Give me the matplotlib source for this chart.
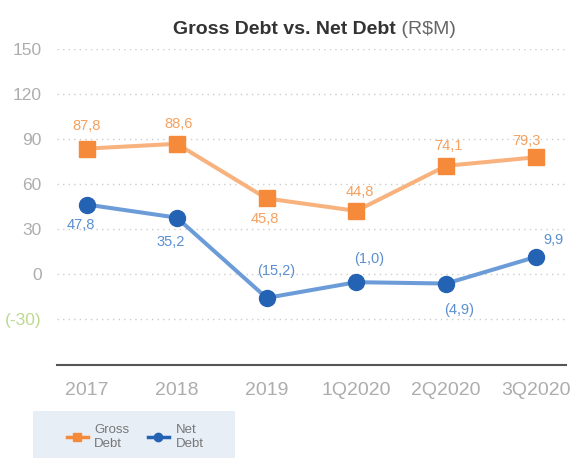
import matplotlib
matplotlib.use('Agg')
import matplotlib.pyplot as plt
from matplotlib.patches import Rectangle
from matplotlib.lines import Line2D

plt.rcParams['font.family'] = ['Liberation Sans', 'DejaVu Sans']

periods = ['2017', '2018', '2019', '1Q2020', '2Q2020', '3Q2020']
gross = [83.5, 86.7, 50.2, 41.9, 72.0, 77.7]
net = [46.1, 37.4, -16.2, -5.7, -6.6, 11.2]
gross_labels = ['87,8', '88,6', '45,8', '44,8', '74,1', '79,3']
net_labels = ['47,8', '35,2', '(15,2)', '(1,0)', '(4,9)', '9,9']
yticks = [150, 120, 90, 60, 30, 0, -30]
ytick_labels = ['150', '120', '90', '60', '30', '0', '(-30)']

# label offsets in pixels (dx, dy), up is positive
gross_off = [(0, 23), (2, 20), (-2, -21), (3, 19), (2, 20), (-10, 16)]
net_off = [(-6, -20), (-6, -24), (10, 27), (13, 23), (13, -26), (17, 17)]

c_gross_line = '#F8B27E'
c_gross = '#F58A3A'
c_gross_txt = '#F5A05E'
c_net_line = '#6C9CD8'
c_net = '#2462B4'
c_net_txt = '#5B8FD2'

W, H = 572, 458
fig = plt.figure(figsize=(W / 100, H / 100), dpi=100)
ax = fig.add_axes([57 / W, 1 - 365 / H, (566 - 57) / W, (365 - 49) / H])

x = list(range(len(periods)))
ax.plot(x, gross, color=c_gross_line, lw=2.9, marker='s', ms=11.5,
        markerfacecolor=c_gross, markeredgecolor=c_gross, zorder=3)
ax.plot(x, net, color=c_net_line, lw=2.9, marker='o', ms=11.5,
        markerfacecolor=c_net, markeredgecolor=c_net, zorder=3)

for i in x:
    ax.annotate(gross_labels[i], (x[i], gross[i]), xytext=gross_off[i],
                textcoords='offset pixels', ha='center', va='center',
                fontsize=10.5, color=c_gross_txt)
    ax.annotate(net_labels[i], (x[i], net[i]), xytext=net_off[i],
                textcoords='offset pixels', ha='center', va='center',
                fontsize=10.5, color=c_net_txt)

ax.set_xlim(-0.334, 5.334)
ax.set_ylim(-61, 150)
for v in yticks:
    ax.axhline(v, color='#CCCCCC', lw=1, ls=(0, (1, 3)), zorder=1)
ax.set_yticks(yticks)
ax.set_yticklabels(ytick_labels, fontsize=12.5, color='#ADADAD')
ax.get_yticklabels()[-1].set_color('#BCDA92')
ax.set_xticks(x)
ax.set_xticklabels(periods, fontsize=14, color='#ADADAD')
ax.tick_params(axis='both', length=0)
ax.tick_params(axis='y', pad=11)
ax.tick_params(axis='x', pad=12)
for s in ['top', 'right', 'left']:
    ax.spines[s].set_visible(False)
ax.spines['bottom'].set_color('#555555')
ax.spines['bottom'].set_linewidth(1.5)

fig.text(396 / W, 1 - 29 / H, 'Gross Debt vs. Net Debt', ha='right',
         va='center', fontsize=14, fontweight='bold', color='#333333')
fig.text(396 / W, 1 - 29 / H, ' (R$M)', ha='left', va='center',
         fontsize=14, color='#666666')

fig.patches.append(Rectangle((33 / W, 0), (235 - 33) / W, (458 - 411) / H,
                             transform=fig.transFigure, facecolor='#E8EEF6',
                             edgecolor='none', zorder=0))
handles = [Line2D([], [], color=c_gross, lw=2.5, marker='s', ms=6),
           Line2D([], [], color=c_net, lw=2.5, marker='o', ms=6)]
fig.legend(handles, ['Gross\nDebt', 'Net\nDebt'], ncol=2, frameon=False,
           loc='center left', bbox_to_anchor=(60 / W, 1 - 437 / H),
           fontsize=9.5, labelcolor='#777777', borderpad=0, handlelength=1.6,
           handletextpad=0.5, columnspacing=1.4)

fig.savefig('out.png', dpi=100)
